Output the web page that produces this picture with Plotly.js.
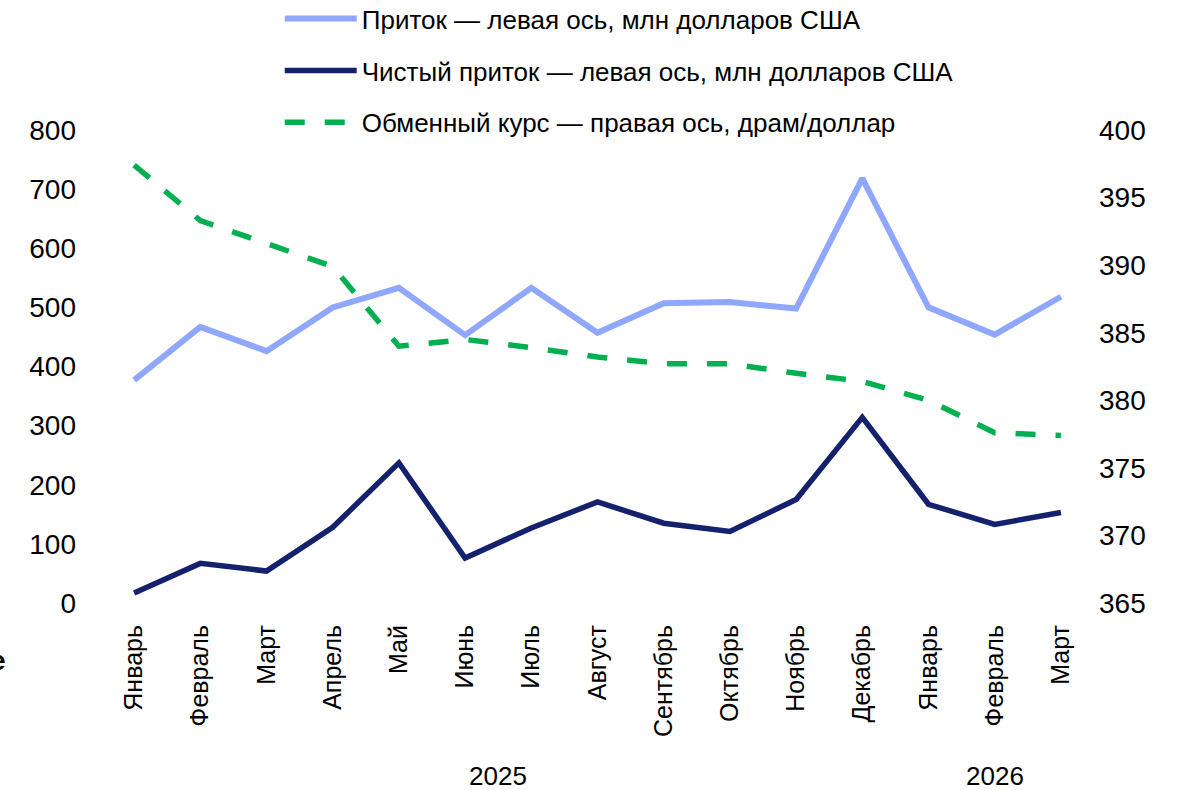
<!DOCTYPE html>
<html>
<head>
<meta charset="utf-8">
<script src="https://cdn.plot.ly/plotly-3.0.1.min.js"></script>
<style>html,body{margin:0;padding:0;background:#fff;}#chart{width:1178px;height:790px;}</style>
</head>
<body>
<div id="chart"></div>
<script>
const months = ["Январь","Февраль","Март","Апрель","Май","Июнь","Июль","Август","Сентябрь","Октябрь","Ноябрь","Декабрь","Январь","Февраль","Март"];
const years = ["2025","2026"];
const inflow = [377, 467, 426, 500, 533, 453, 533, 457, 507, 509, 498, 718, 500, 454, 518];
const netInflow = [17, 67, 54, 128, 237, 76, 127, 171, 135, 121, 175, 314, 167, 133, 153];
const exchangeRate = [397.4, 393.3, 391.6, 389.9, 384.0, 384.5, 383.9, 383.2, 382.7, 382.7, 382.0, 381.4, 380.0, 377.6, 377.4];
const leftTicks = [0, 100, 200, 300, 400, 500, 600, 700, 800];
const rightTicks = [365, 370, 375, 380, 385, 390, 395, 400];

const idx = months.map((m, i) => i);
const FONT = "Liberation Sans, Arial, sans-serif";

const traces = [
  {x: idx, y: inflow, type: "scatter", mode: "lines", name: "Приток — левая ось, млн долларов США",
   line: {color: "#8FA7FF", width: 6}, legendgroup: "a", yaxis: "y"},
  {x: idx, y: netInflow, type: "scatter", mode: "lines", name: "Чистый приток — левая ось, млн долларов США",
   line: {color: "#14226E", width: 5.5}, legendgroup: "b", yaxis: "y"},
  {x: idx, y: exchangeRate, type: "scatter", mode: "lines", name: "Обменный курс — правая ось, драм/доллар",
   line: {color: "#00B050", width: 5.5, dash: "20px,20px"}, legendgroup: "c", yaxis: "y2"}
];

const layout = {
  width: 1178, height: 790,
  margin: {l: 101, r: 84, t: 130, b: 187, autoexpand: false},
  paper_bgcolor: "#fff", plot_bgcolor: "#fff",
  font: {family: FONT, color: "#000", size: 27},
  showlegend: true,
  legend: {x: 0.18, y: 1.285, xanchor: "left", yanchor: "top", orientation: "v",
           font: {family: FONT, size: 26}, itemwidth: 72, tracegroupgap: 15, bgcolor: "rgba(0,0,0,0)"},
  xaxis: {type: "linear", range: [-0.5, 14.5], tickmode: "array", tickvals: idx, ticktext: months,
          tickangle: -90, showgrid: false, zeroline: false, showline: false, ticks: "",
          ticklabelstandoff: 16, tickfont: {size: 25}},
  yaxis: {range: [0, 800], tickmode: "array", tickvals: leftTicks, showgrid: false, zeroline: false,
          showline: false, ticks: "", ticklabelstandoff: 24, tickfont: {size: 28}},
  yaxis2: {range: [365, 400], overlaying: "y", side: "right", tickmode: "array", tickvals: rightTicks,
           showgrid: false, zeroline: false, showline: false, ticks: "", ticklabelstandoff: 4, tickfont: {size: 28}},
  annotations: [
    {xref: "x", yref: "paper", x: 5.5, y: -0.366, text: years[0], showarrow: false, yanchor: "middle", font: {size: 26}},
    {xref: "x", yref: "paper", x: 13, y: -0.366, text: years[1], showarrow: false, yanchor: "middle", font: {size: 26}},
    {xref: "paper", yref: "paper", x: -0.0937, y: -0.122, xanchor: "right", yanchor: "middle", text: "<b>e</b>", showarrow: false, font: {size: 28}}
  ]
};

Plotly.newPlot("chart", traces, layout, {staticPlot: true, displayModeBar: false});
</script>
</body>
</html>
